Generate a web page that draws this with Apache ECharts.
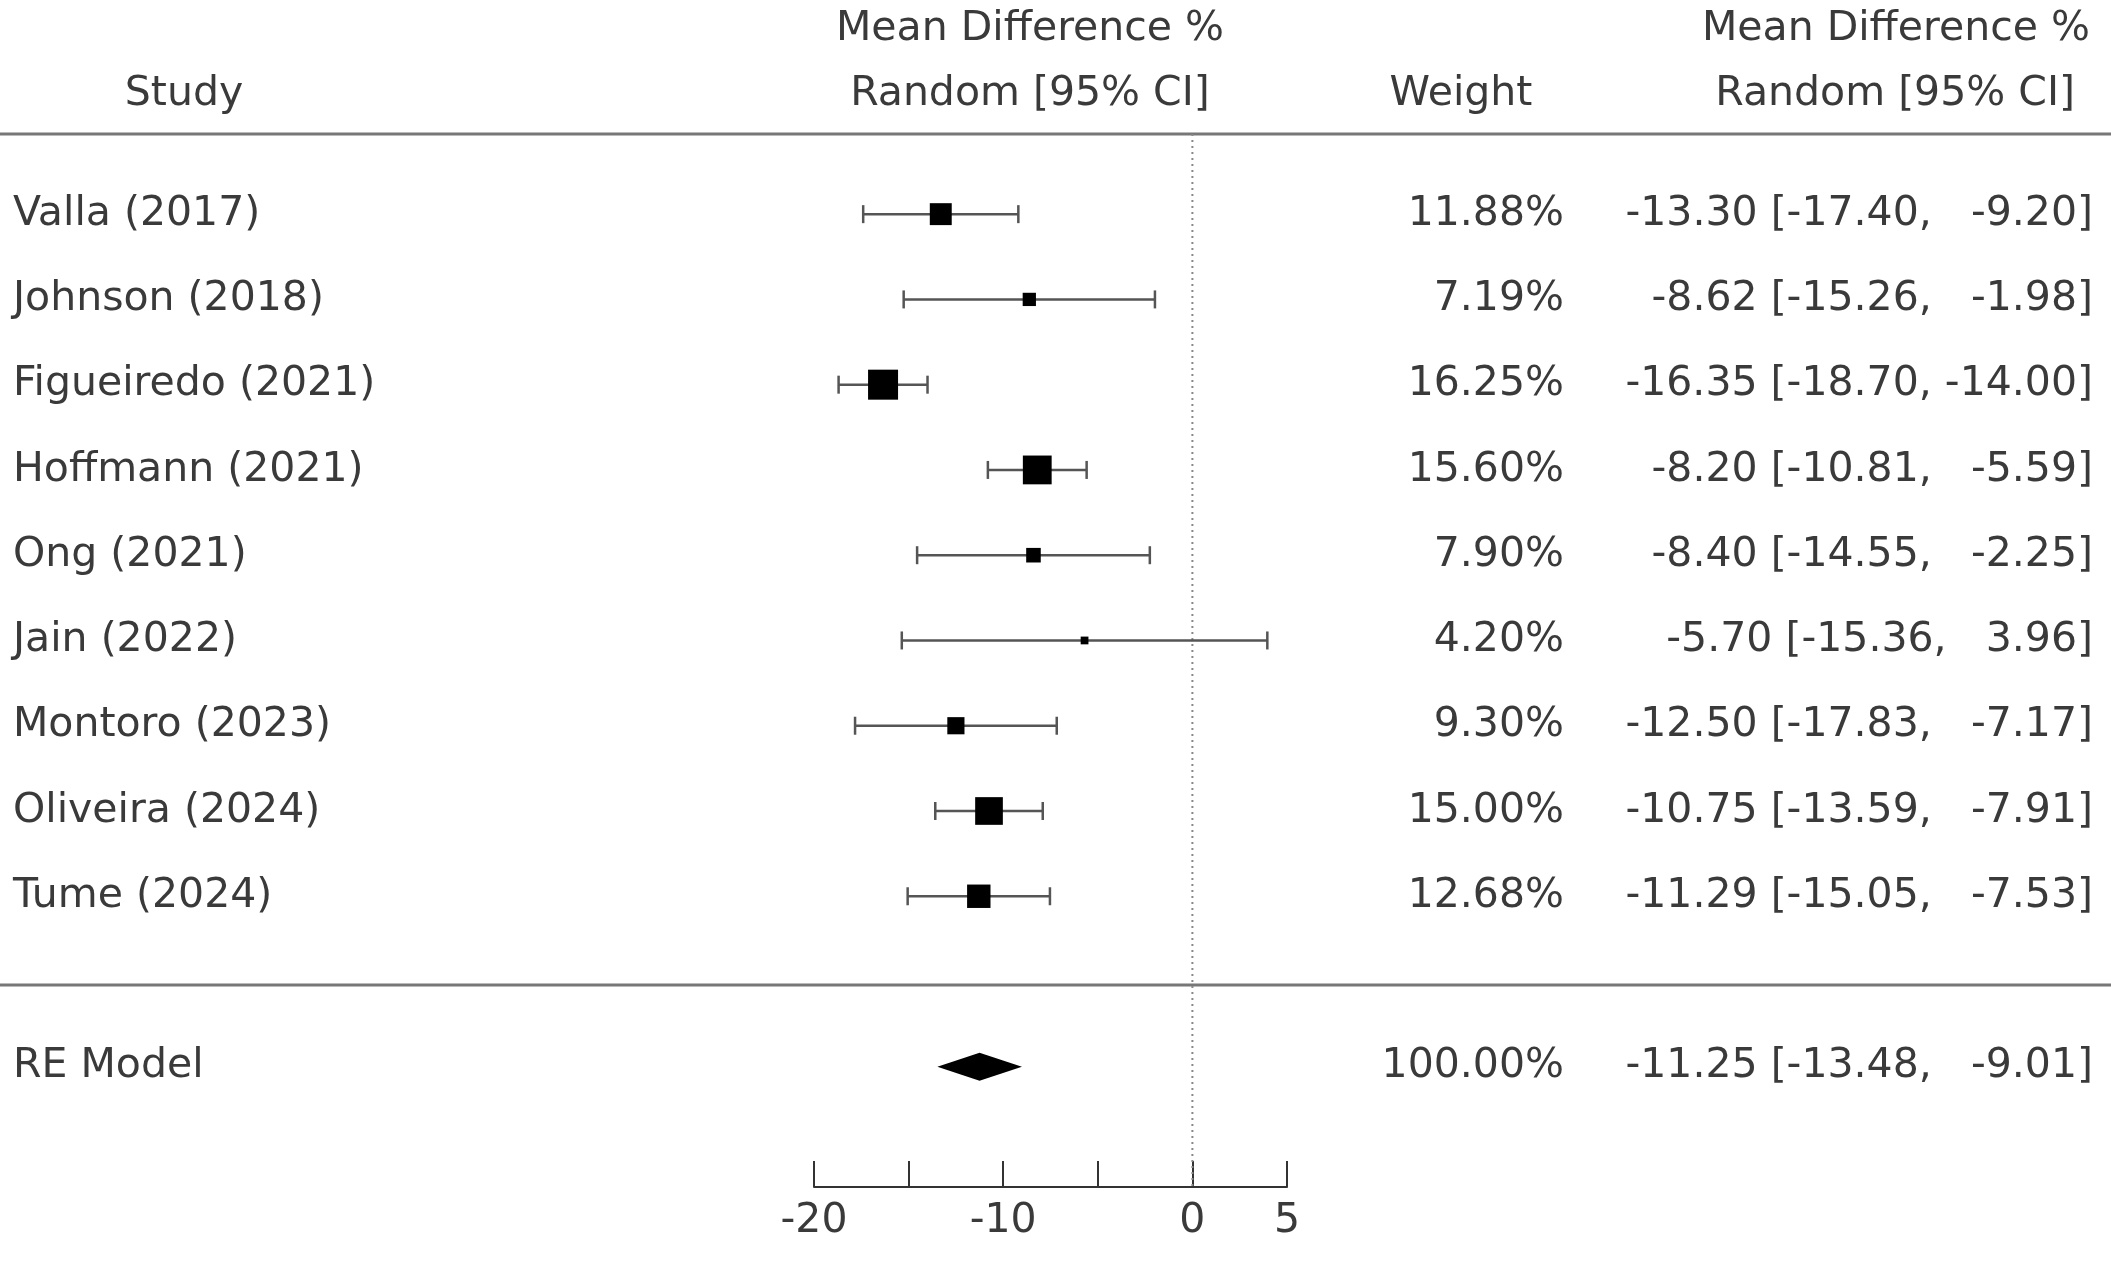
<!DOCTYPE html>
<html>
<head>
<meta charset="utf-8">
<style>html,body{margin:0;padding:0;background:#fff}#chart{width:2111px;height:1270px}</style>
<script src="https://cdn.jsdelivr.net/npm/echarts@6/dist/echarts.min.js"></script>
</head>
<body>
<div id="chart"></div>
<script>
// forest plot data
const studies = ['Valla (2017)', 'Johnson (2018)', 'Figueiredo (2021)', 'Hoffmann (2021)', 'Ong (2021)', 'Jain (2022)', 'Montoro (2023)', 'Oliveira (2024)', 'Tume (2024)'];
const estimates = [-13.30, -8.62, -16.35, -8.20, -8.40, -5.70, -12.50, -10.75, -11.29];
const lower = [-17.40, -15.26, -18.70, -10.81, -14.55, -15.36, -17.83, -13.59, -15.05];
const upper = [-9.20, -1.98, -14.00, -5.59, -2.25, 3.96, -7.17, -7.91, -7.53];
const weights = [11.88, 7.19, 16.25, 15.60, 7.90, 4.20, 9.30, 15.00, 12.68];
const pooled = { name: 'RE Model', est: -11.25, lo: -13.48, hi: -9.01, weight: 100.00 };
const pooledRow = 10;
const xTicks = [-20, -10, 0, 5];

const fmt = v => (v < 0 ? '-' : '') + Math.abs(v).toFixed(2);
const ciText = (e, l, u) => {
  const us = fmt(u);
  return fmt(e) + ' [' + fmt(l) + ', ' + (us.length < 6 ? '  ' : '') + us + ']';
};

const font = '"DejaVu Sans", sans-serif';
const txtColor = '#3a3a3a';
const fs = 41;

const rows = studies.map((s, i) => [estimates[i], i, lower[i], upper[i], weights[i], s, ciText(estimates[i], lower[i], upper[i])]);

const chart = echarts.init(document.getElementById('chart'));

function text(x, y, str, align) {
  return { type: 'text', style: { x: x, y: y, text: str, fill: txtColor, font: fs + 'px ' + font, textAlign: align, textVerticalAlign: 'middle' } };
}

chart.setOption({
  animation: false,
  grid: { left: 814, right: 824, top: 134, bottom: 83 },
  xAxis: {
    type: 'value', min: -20, max: 5, interval: 5, position: 'bottom',
    axisLine: { onZero: false, lineStyle: { color: '#333', width: 2 } },
    axisTick: { inside: true, length: 26, lineStyle: { color: '#333', width: 2 } },
    axisLabel: { fontSize: fs, fontFamily: font, color: txtColor, margin: 14,
      formatter: v => xTicks.includes(v) ? String(v) : '' },
    splitLine: { show: false }
  },
  yAxis: { type: 'value', inverse: true, min: -0.94, max: 11.41, show: false },
  graphic: [
    text(184, 94, 'Study', 'center'),
    text(1030, 29, 'Mean Difference %', 'center'),
    text(1030, 94, 'Random [95% CI]', 'center'),
    text(1461, 94, 'Weight', 'center'),
    text(2090, 29, 'Mean Difference %', 'right'),
    text(2075, 94, 'Random [95% CI]', 'right'),
    { type: 'line', shape: { x1: 0, y1: 134, x2: 2111, y2: 134 }, style: { stroke: '#777', lineWidth: 3 } },
    { type: 'line', shape: { x1: 0, y1: 985, x2: 2111, y2: 985 }, style: { stroke: '#777', lineWidth: 3 } }
  ],
  series: [
    {
      type: 'custom', data: [[0, -0.94, 0, 11.41]], clip: false, z: 1,
      renderItem: (params, api) => {
        const a = api.coord([0, -0.94]);
        const b = api.coord([0, 11.41]);
        return { type: 'line', shape: { x1: a[0], y1: a[1], x2: b[0], y2: b[1] }, style: { stroke: '#888', lineWidth: 2, lineDash: [2, 4] } };
      }
    },
    {
      type: 'custom', data: rows, clip: false, z: 3,
      renderItem: (params, api) => {
        const c = api.coord([api.value(0), api.value(1)]);
        const l = api.coord([api.value(2), api.value(1)]);
        const u = api.coord([api.value(3), api.value(1)]);
        const s = 30 * api.value(4) / 16.25;
        const r = rows[params.dataIndex];
        const y = c[1];
        return {
          type: 'group',
          children: [
            { type: 'line', shape: { x1: l[0], y1: y, x2: u[0], y2: y }, style: { stroke: '#555', lineWidth: 2.5 } },
            { type: 'line', shape: { x1: l[0], y1: y - 9, x2: l[0], y2: y + 9 }, style: { stroke: '#555', lineWidth: 2.5 } },
            { type: 'line', shape: { x1: u[0], y1: y - 9, x2: u[0], y2: y + 9 }, style: { stroke: '#555', lineWidth: 2.5 } },
            { type: 'rect', shape: { x: c[0] - s / 2, y: y - s / 2, width: s, height: s }, style: { fill: '#000' } },
            text(13, y, r[5], 'left'),
            text(1564, y, r[4].toFixed(2) + '%', 'right'),
            text(2093, y, r[6], 'right')
          ]
        };
      }
    },
    {
      type: 'custom', data: [[pooled.est, pooledRow, pooled.lo, pooled.hi]], clip: false, z: 3,
      renderItem: (params, api) => {
        const c = api.coord([api.value(0), api.value(1)]);
        const l = api.coord([api.value(2), api.value(1)]);
        const u = api.coord([api.value(3), api.value(1)]);
        const h = 14;
        return {
          type: 'group',
          children: [
            { type: 'polygon', shape: { points: [[l[0], c[1]], [c[0], c[1] - h], [u[0], c[1]], [c[0], c[1] + h]] }, style: { fill: '#000' } },
            text(13, c[1], pooled.name, 'left'),
            text(1564, c[1], pooled.weight.toFixed(2) + '%', 'right'),
            text(2093, c[1], ciText(pooled.est, pooled.lo, pooled.hi), 'right')
          ]
        };
      }
    }
  ]
});
</script>
</body>
</html>
